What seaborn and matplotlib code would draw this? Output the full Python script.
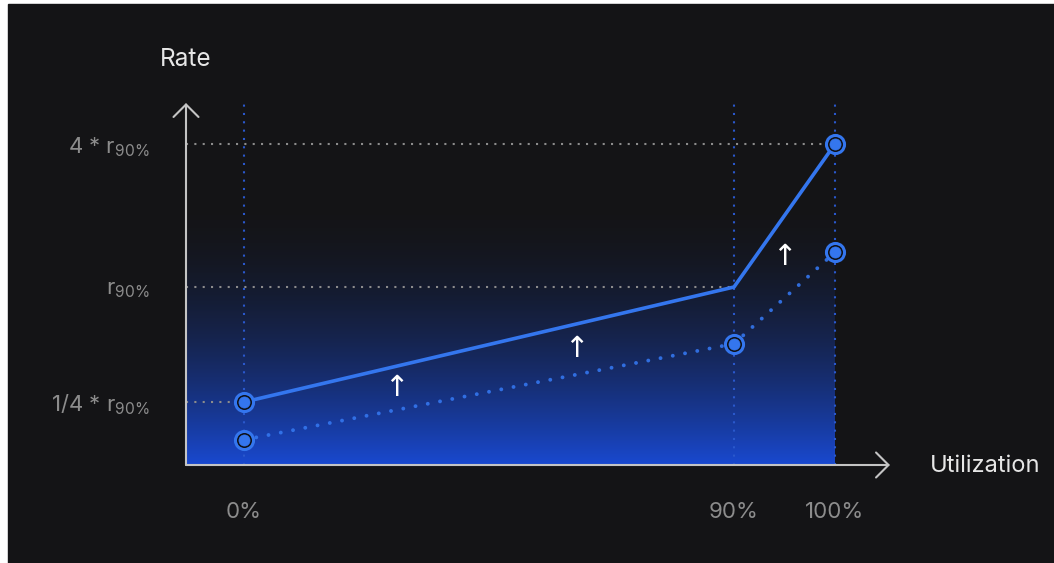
import numpy as np
import pandas as pd
import matplotlib.pyplot as plt
import seaborn as sns
from matplotlib.patches import Rectangle

# chart values (schematic: rate in units of r90%)
util = [0, 90, 100]
util_labels = ['0%', '90%', '100%']
rate_new = [0.25, 1.0, 4.0]
rate_old = [0.1, 0.63, 1.73]
rate_ticks = [0.25, 1.0, 4.0]
rate_labels = [r'1/4 * r$_{\mathregular{90\%}}$', r'r$_{\mathregular{90\%}}$',
               r'4 * r$_{\mathregular{90\%}}$']
ring_new = [0, 100]          # points on the new curve that get a ring marker
hint_x = [28, 61, 95]        # where the little "up" arrows sit

BG = '#141416'
BLUE = '#3476ee'
BLUE_DIM = '#2a58cc'
GREY = '#8c8c8c'
AXIS = '#c4c4c4'

sns.set_style('dark')
plt.rcParams['font.family'] = ['Inter', 'DejaVu Sans']
plt.rcParams['mathtext.fontset'] = 'custom'
plt.rcParams['mathtext.rm'] = 'Inter'

# the picture is not to scale: piecewise-linear scales to mimic it
x_knots = [-200, 0, 90, 100, 300]
x_px = [58 - 200 * 490 / 90, 58, 548, 649, 649 + 200 * 10.1]
y_knots = [-10, 0, 0.25, 1, 4, 60]
y_px = [-10 * 252, 0, 63, 178, 321, 321 + 56 * 143 / 3]


def fx(v):
    return np.interp(v, x_knots, x_px)


def fx_inv(p):
    return np.interp(p, x_px, x_knots)


def fy(v):
    return np.interp(v, y_knots, y_px)


def fy_inv(p):
    return np.interp(p, y_px, y_knots)


df = pd.DataFrame({'util': util, 'new': rate_new, 'old': rate_old})

fig = plt.figure(figsize=(10.54, 5.63), dpi=100, facecolor='white')
fig.patches.append(Rectangle((8 / 1054, 0), 1, 559 / 563, transform=fig.transFigure,
                             color=BG, zorder=-10))
ax = fig.add_axes([186 / 1054, 98 / 563, 704 / 1054, 362 / 563])
ax.set_facecolor('none')
ax.set_xscale('function', functions=(fx, fx_inv))
ax.set_yscale('function', functions=(fy, fy_inv))
xlim = (float(fx_inv(0)), float(fx_inv(704)))
ylim = (0, float(fy_inv(362)))

# gradient glow under the curves
t = np.linspace(0, 1, 400)
alpha = np.clip(1 - t / 0.75, 0, 1) ** 1.9
grad = np.zeros((len(t), 1, 4))
grad[:, 0, 0] = 0.10
grad[:, 0, 1] = 0.29
grad[:, 0, 2] = 0.82
grad[:, 0, 3] = alpha
x100 = (fx(100) - fx(xlim[0])) / (fx(xlim[1]) - fx(xlim[0]))
ax.imshow(grad, extent=(0, x100, 0, 1), transform=ax.transAxes, origin='lower',
          aspect='auto', zorder=0)

# guide lines
for u in util:
    ax.axvline(u, color=BLUE_DIM, lw=1.5, ls=(0, (1, 3)), zorder=1)
for u, r in zip([0, 90, 100], rate_ticks):
    ax.hlines(r, xlim[0], u, color=GREY, lw=1.5, linestyles=[(0, (1, 3))], zorder=1)

sns.lineplot(data=df, x='util', y='new', ax=ax, color=BLUE, lw=2.6, zorder=3)
sns.lineplot(data=df, x='util', y='old', ax=ax, color=BLUE, lw=2.8,
             ls=(0, (0.01, 3.2)), dash_capstyle='round', alpha=0.9, zorder=3)

ring_pts = pd.concat([df[df['util'].isin(ring_new)][['util', 'new']].rename(columns={'new': 'r'}),
                      df[['util', 'old']].rename(columns={'old': 'r'})])
ax.plot(ring_pts['util'], ring_pts['r'], 'o', ms=13, mfc='#0e1016', mec=BLUE,
        mew=2.2, zorder=4)
ax.plot(ring_pts['util'], ring_pts['r'], 'o', ms=8, mfc=BLUE, mec=BLUE, mew=0.5, zorder=5)

# little up-arrows half way between the two curves
px_u = fx(util)
for hx in hint_x:
    p = fx(hx)
    mid = (np.interp(p, px_u, fy(rate_new)) + np.interp(p, px_u, fy(rate_old))) / 2
    ax.text(hx, fy_inv(mid), '\u2191', color='white', fontsize=21,
            family='DejaVu Sans', ha='center', va='center', zorder=6)

ax.set_xlim(xlim)
ax.set_ylim(ylim)
ax.set_xticks(util, util_labels)
ax.set_yticks(rate_ticks, rate_labels)
ax.tick_params(axis='x', length=0, pad=27, labelsize=16, labelcolor=GREY)
ax.tick_params(axis='y', length=0, pad=26, labelsize=16, labelcolor=GREY)
ax.minorticks_off()
ax.grid(False)
ax.set_xlabel('')
ax.set_ylabel('')
for s in ax.spines.values():
    s.set_visible(False)

arrow = dict(arrowstyle='->,head_length=0.45,head_width=0.45', color=AXIS, lw=1.5,
             shrinkA=0, shrinkB=0, mutation_scale=20)
ax.annotate('', xy=(0, 1), xytext=(0, 0), xycoords='axes fraction', arrowprops=arrow,
            annotation_clip=False)
ax.annotate('', xy=(1, 0), xytext=(0, 0), xycoords='axes fraction', arrowprops=arrow,
            annotation_clip=False)

ax.text(0, 1.12, 'Rate', transform=ax.transAxes, color='#e6e6e6', fontsize=17.5,
        ha='center', va='center')
ax.text(1.057, -0.003, 'Utilization', transform=ax.transAxes, color='#e6e6e6',
        fontsize=17, ha='left', va='center')

fig.savefig('out.png', dpi=100, facecolor=fig.get_facecolor())
